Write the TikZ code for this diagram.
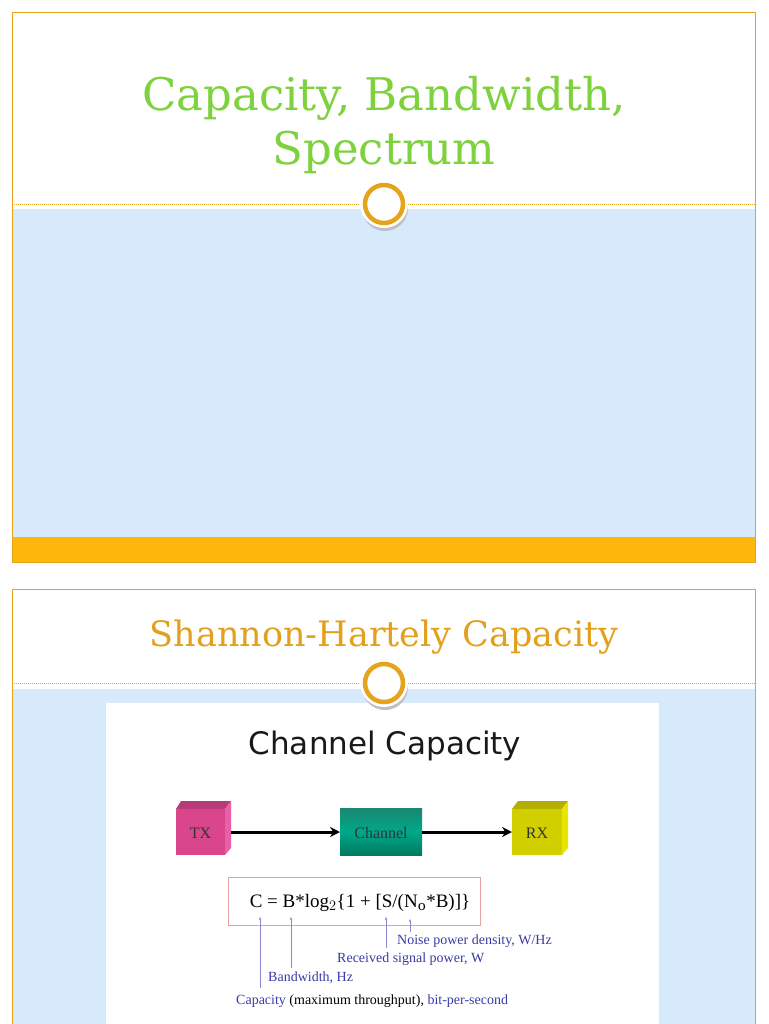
\documentclass[tikz,border=0pt]{standalone}
\usepackage{fontspec}
\setmainfont{DejaVu Serif}
\newfontfamily\timesf{Liberation Serif}
\newfontfamily\sansf{DejaVu Sans}
\usetikzlibrary{arrows.meta,calc}
\definecolor{frameor}{HTML}{E5A41C}
\definecolor{baror}{HTML}{FDB70B}
\definecolor{lblue}{HTML}{D6EAFC}
\definecolor{tgreen}{HTML}{7ED23E}
\definecolor{torange}{HTML}{E3A01A}
\definecolor{pinkf}{HTML}{D9468C}
\definecolor{pinkt}{HTML}{B83A78}
\definecolor{pinks}{HTML}{E860A8}
\definecolor{tealf}{HTML}{00A88A}
\definecolor{teald}{HTML}{007A60}
\definecolor{yelf}{HTML}{D2CF00}
\definecolor{yelt}{HTML}{B3AE00}
\definecolor{yels}{HTML}{E8E500}
\definecolor{lblue2}{HTML}{3A3AA8}
\definecolor{boxred}{HTML}{E8A0A0}
\tikzset{
  frame/.style={draw=frameor,line width=0.8pt},
  dline/.style={draw=frameor,dash pattern=on 1pt off 1pt,line width=0.6pt},
  ringc/.style={draw=frameor,line width=4.5pt,fill=white},
  lab/.style={text=lblue2,font=\timesf\fontsize{14}{16}\selectfont,inner sep=0pt},
  pointer/.style={draw=lblue2!60,line width=0.5pt,-{Stealth[length=3pt,width=2.5pt]}},
  flow/.style={draw=black,line width=3pt,-{Stealth[length=10pt,width=10pt]}},
  boxtext/.style={font=\timesf\fontsize{16}{18}\selectfont,text=black!80},
}
\begin{document}
\begin{tikzpicture}[x=1pt,y=-1pt]
\useasboundingbox (0,0) rectangle (768,1024);
\fill[white] (0,0) rectangle (768,1024);
% ---------- slide 1 ----------
\fill[lblue] (12,209) rectangle (755,537);
\fill[baror] (12,537) rectangle (755,562);
\draw[frame] (12,12) rectangle (755,562);
\draw[dline] (12,204) -- (755,204);
\node[text=tgreen,font=\fontsize{45}{54}\selectfont,align=center] (t1) at (384,125) {Capacity, Bandwidth,\\Spectrum};
\fill[black!25] (385,208) circle (23);
\fill[white] (384,204) circle (24);
\node[ringc,circle,minimum size=38pt,inner sep=0pt] (c1) at (384,204) {};
% ---------- slide 2 ----------
\fill[lblue] (12,689) rectangle (755,1024);
\draw[frame] (12,1030) -- (12,589) -- (755,589) -- (755,1030);
\draw[dline] (12,683) -- (755,683);
\node[text=torange,font=\fontsize{35}{40}\selectfont] (t2) at (384,637) {Shannon-Hartely Capacity};
\fill[white] (106,703) rectangle (659,1024);
\fill[black!25] (385,687) circle (23);
\fill[white] (384,683) circle (24);
\node[ringc,circle,minimum size=38pt,inner sep=0pt] (c2) at (384,683) {};
% image content
\node[font=\sansf\fontsize{31}{36}\selectfont,text=black!90] (cc) at (385,746) {Channel Capacity};
% TX box
\fill[pinkt] (176,809) -- (181,801) -- (231,801) -- (225,809) -- cycle;
\fill[pinks] (225,809) -- (231,801) -- (231,848) -- (225,855) -- cycle;
\fill[pinkf] (176,809) rectangle (225,855);
\node[boxtext] (tx) at (200.5,833) {TX};
% Channel
\shade[top color=teald!90,bottom color=teald,middle color=tealf] (340,808) rectangle (422,855);
\node[boxtext] (ch) at (381,833) {Channel};
% RX box
\fill[yelt] (512,809) -- (518,801) -- (568,801) -- (562,809) -- cycle;
\fill[yels] (562,809) -- (568,801) -- (568,848) -- (562,855) -- cycle;
\fill[yelf] (512,809) rectangle (562,855);
\node[boxtext] (rx) at (537,833) {RX};
\coordinate (txr) at (231,832);
\coordinate (chl) at (340,832);
\coordinate (chr) at (422,832);
\coordinate (rxl) at (512,832);
\draw[flow] (txr) -- (chl);
\draw[flow] (chr) -- (rxl);
% formula box
\draw[boxred,line width=0.8pt] (228,877) rectangle (480,925);
\node[font=\timesf\fontsize{19}{24}\selectfont,inner sep=0pt] (f) at (360,903) {C = B*log$_2$\{1 + [S/(N$_\mathrm{o}$*B)]\}};
% labels
\node[lab,anchor=west] (l1) at (397,941) {Noise power density, W/Hz};
\node[lab,anchor=west] (l2) at (337,959) {Received signal power, W};
\node[lab,anchor=west] (l3) at (268,978) {Bandwidth, Hz};
\node[lab,anchor=west] (l4) at (236,1001) {Capacity \textcolor{black}{(maximum throughput),} bit-per-second};
\coordinate (pC) at (260,988);
\coordinate (pCt) at (260,917);
\coordinate (pB) at (291,968);
\coordinate (pBt) at (291,917);
\coordinate (pS) at (386,948);
\coordinate (pSt) at (386,917);
\coordinate (pN) at (410,932);
\coordinate (pNt) at (410,919);
\draw[pointer] (pC) -- (pCt);
\draw[pointer] (pB) -- (pBt);
\draw[pointer] (pS) -- (pSt);
\draw[pointer] (pN) -- (pNt);
\end{tikzpicture}
\end{document}
